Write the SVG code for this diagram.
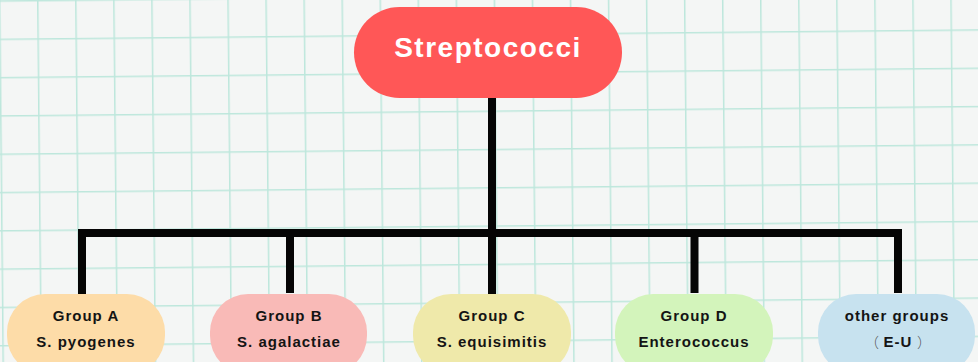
<svg xmlns="http://www.w3.org/2000/svg" width="978" height="362" viewBox="0 0 978 362">
  <defs>
    <pattern id="grid" width="38.05" height="38.3" patternUnits="userSpaceOnUse" patternTransform="rotate(-0.55) translate(37 0.3)">
      <path d="M0 0V38.3M0 0H38.05" stroke="#bde7dc" stroke-width="3" fill="none"/>
    </pattern>
    <style>
      .node rect{stroke:none}
      .lbl{font-family:"Liberation Sans",Arial,sans-serif;font-weight:700;font-size:15px;fill:#141414;text-anchor:middle;letter-spacing:1px}
      .root-lbl{font-family:"Liberation Sans",Arial,sans-serif;font-weight:700;font-size:28px;fill:#ffffff;text-anchor:middle;letter-spacing:1.5px}
      .conn{stroke:#050505;stroke-width:8;fill:none;stroke-linecap:butt;stroke-linejoin:miter}
      .paren{font-family:"Noto Sans CJK SC","Liberation Sans",sans-serif;font-weight:300;font-size:14px;letter-spacing:0;fill:#555555}
    </style>
  </defs>
  <rect width="978" height="362" fill="#f4f6f5"/>
  <rect width="978" height="362" fill="url(#grid)"/>

  <g id="connectors">
    <path class="conn" d="M492 98V294"/>
    <path class="conn" d="M82 301V233H898V293"/>
    <path class="conn" d="M290 233V293"/>
    <path class="conn" d="M694.5 233V293"/>
  </g>

  <g id="root" class="node">
    <rect x="354" y="7" width="268" height="91" rx="45.5" fill="#ff5757"/>
    <text class="root-lbl" x="488" y="57">Streptococci</text>
  </g>

  <g id="groupA" class="node">
    <rect x="7" y="294" width="158" height="80" rx="38" fill="#fddca8"/>
    <text class="lbl" x="86" y="321">Group A</text>
    <text class="lbl" x="86" y="347">S. pyogenes</text>
  </g>

  <g id="groupB" class="node">
    <rect x="210" y="294" width="157" height="80" rx="38" fill="#f9bab7"/>
    <text class="lbl" x="289" y="321">Group B</text>
    <text class="lbl" x="289" y="347">S. agalactiae</text>
  </g>

  <g id="groupC" class="node">
    <rect x="413" y="294" width="158" height="80" rx="38" fill="#efe9aa"/>
    <text class="lbl" x="492" y="321">Group C</text>
    <text class="lbl" x="492" y="347">S. equisimitis</text>
  </g>

  <g id="groupD" class="node">
    <rect x="615" y="294" width="158" height="80" rx="38" fill="#d3f4bb"/>
    <text class="lbl" x="694" y="321">Group D</text>
    <text class="lbl" x="694" y="347">Enterococcus</text>
  </g>

  <g id="otherGroups" class="node">
    <rect x="818" y="294" width="157" height="80" rx="38" fill="#c7e2ef"/>
    <text class="lbl" x="897" y="321">other groups</text>
    <text class="lbl" y="347" style="text-anchor:start"><tspan class="paren" x="865">（</tspan><tspan x="883.5">E-U</tspan><tspan class="paren" x="917">）</tspan></text>
  </g>
</svg>
